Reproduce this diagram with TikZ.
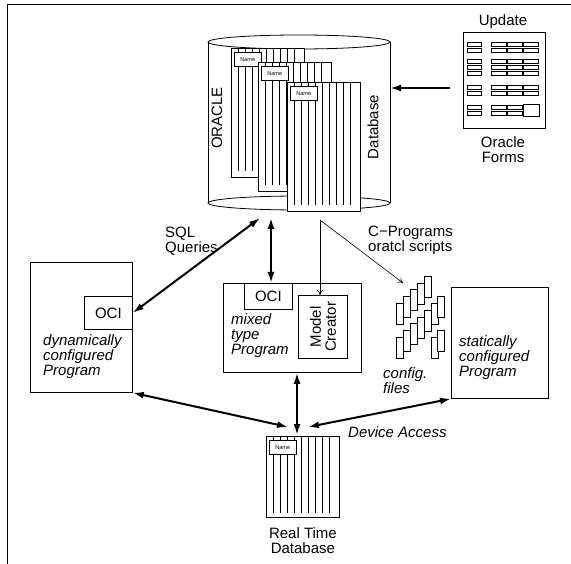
\documentclass[tikz,border=0pt]{standalone}
\usepackage{fontspec}
\setmainfont{Liberation Sans}
\usetikzlibrary{arrows.meta, positioning, calc}

\begin{document}
\begin{tikzpicture}[x=1pt, y=-1pt, font=\fontsize{15}{15}\selectfont,
    progbox/.style={draw, line width=0.8pt, inner sep=0pt, anchor=north west},
    sheetbox/.style={draw, fill=white, line width=0.8pt, minimum width=73pt, inner sep=0pt, anchor=north west},
    namebox/.style={draw, fill=white, line width=0.6pt, inner sep=0pt, minimum width=27pt, minimum height=14pt, anchor=north west, font=\fontsize{5.5}{6}\selectfont},
    cfgbox/.style={draw, fill=white, line width=0.6pt, minimum width=7pt, minimum height=21pt, inner sep=0pt, anchor=north west},
    txt/.style={align=left, inner sep=0pt, anchor=west},
    bigarrow/.style={{Latex[length=11pt,width=7pt]}-{Latex[length=11pt,width=7pt]}, line width=2pt},
    onearrow/.style={-{Latex[length=11pt,width=7pt]}, line width=2pt},
    thinarrow/.style={-{To[length=5pt,width=6pt]}, line width=0.6pt}]
\useasboundingbox (0,0) rectangle (571,564);

% Frame
\draw[line width=1pt] (571,5) -- (7,5) -- (7,564);

% Oracle database
\draw[line width=0.8pt] (208,42) -- (208,203) (390,42) -- (390,203);
\draw[line width=0.8pt] (299,42) ellipse [x radius=91, y radius=7];
\draw[line width=0.8pt] (299,203) ellipse [x radius=91, y radius=7];
\node[rotate=90] (oratxt) at (217,118) {ORACLE};
\node[rotate=90] (dbtxt) at (373,127) {Database};

% Tables
\foreach \nm/\sx/\sy/\sh in {tabA/231/48/129, tabB/258/62/129, tabC/287/82/129, rtdb/266/436/81} {
  \node[sheetbox, minimum height=\sh pt] (\nm) at (\sx,\sy) {};
  \foreach \k in {1,...,9}
    \draw[line width=0.6pt] ($(\nm.north west)+(7*\k,0)$) -- ++(0,0.95*\sh);
  \node[namebox] at ($(\nm.north west)+(3,4)$) {Name};
}
\node[align=center, below=10pt of rtdb, inner sep=0pt] (rttxt) {Real Time\\Database};

% Oracle Forms
\node (updtxt) at (503,22) {Update};
\node[progbox, minimum width=82pt, minimum height=96pt] (form) at (463,32) {};
\foreach \ry in {42,48,59,65,71,85,91,105,111} {
  \draw[line width=0.6pt] (467,\ry) rectangle ++(14,4);
  \foreach \cx in {491,507} \draw[line width=0.6pt] (\cx,\ry) rectangle ++(15,4);
}
\foreach \ry in {42,48,59,65,71,85,91} \draw[line width=0.6pt] (523,\ry) rectangle ++(15,4);
\draw[line width=0.6pt] (523,104) rectangle (539,116);
\node[align=center] (formtxt) at (503,150) {Oracle\\Forms};

% Programs
\node[progbox, minimum width=102pt, minimum height=130pt] (dynL) at (30,262) {};
\node[progbox, minimum width=48pt, minimum height=33pt] (ociL) at (84,296) {OCI};
\node[txt] (dyntxt) at (43,357) {\itshape dynamically\\\itshape configured\\\itshape Program};

\node[progbox, minimum width=138pt, minimum height=89pt] (mixed) at (223,283) {};
\node[progbox, minimum width=48pt, minimum height=26pt] (ociM) at (244,283) {OCI};
\node[progbox, minimum width=49pt, minimum height=63pt] (model) at (298,295) {};
\node[rotate=90, align=center] (modeltxt) at (model) {Model\\Creator};
\node[txt] (mixtxt) at (231,336) {\itshape mixed\\\itshape type\\\itshape Program};

\node[progbox, minimum width=97pt, minimum height=111pt] (static) at (451,287) {};
\node[txt] (stattxt) at (459,358) {\itshape statically\\\itshape configured\\\itshape Program};

% Config files
\foreach \cx/\cy in {396/303, 403/296, 410/289, 417/283, 424/276,
                     396/337, 403/330, 410/323, 424/310, 431/303, 437/296,
                     431/337, 437/330}
  \node[cfgbox] at (\cx,\cy) {};
\node[cfgbox, line width=1.2pt] (cfgmid) at (417,317) {};
\node[txt] (cfgtxt) at (383,381) {\itshape config.\\\itshape files};

% Labels
\node[txt] (sqltxt) at (165,241) {SQL\\Queries};
\node[txt] (ctxt) at (368,240) {C−Programs\\oratcl scripts};
\node[txt] (devtxt) at (348,432) {\itshape Device Access};

% Arrows
\coordinate (dbL) at (260,218);
\coordinate (dbM) at (271,218);
\coordinate (dbR) at (390,88);
\coordinate (split) at (320,220);
\coordinate (cfg) at (403,283);
\coordinate (rtL) at (288,427);
\coordinate (rtM) at (297,435);
\coordinate (rtR) at (308,427);

\draw[onearrow, shorten <=13pt] (dbR -| form.west) -- (dbR);
\draw[bigarrow] (ociL.east) -- (dbL);
\draw[bigarrow] (dbM) -- (dbM |- ociM.north);
\draw[thinarrow] (split) -- (split |- model.north);
\draw[thinarrow] (split) -- (cfg);
\draw[bigarrow] (dynL.south east) -- (rtL);
\draw[bigarrow] (rtM |- mixed.south) -- (rtM);
\draw[bigarrow] (static.south west) -- (rtR);
\end{tikzpicture}
\end{document}
